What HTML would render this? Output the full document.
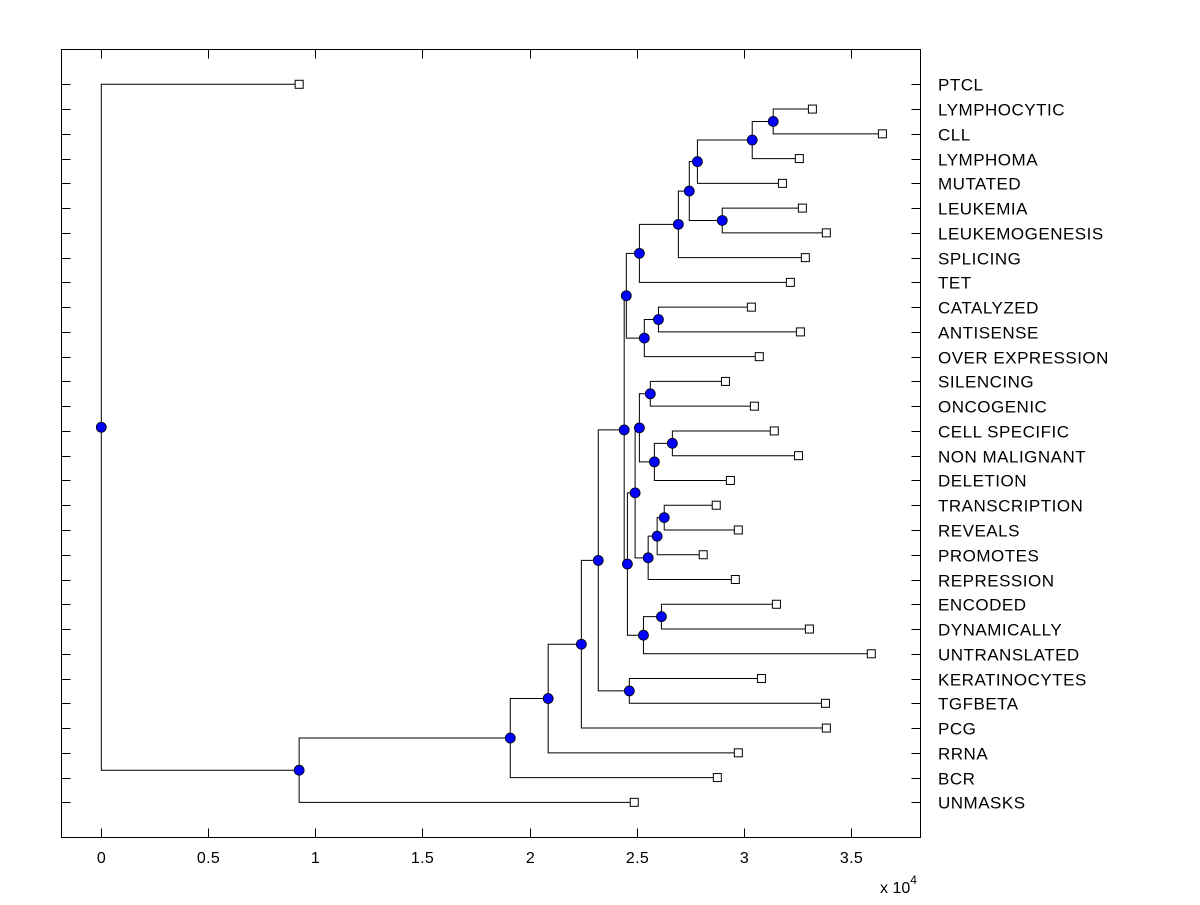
<!DOCTYPE html>
<html><head><meta charset="utf-8"><style>
html,body{margin:0;padding:0;background:#fff;}
svg text{font-family:"Liberation Sans",Arial,sans-serif;fill:#000;}
</style></head><body>
<svg id="chart" width="1200" height="900" xmlns="http://www.w3.org/2000/svg">
<rect x="0" y="0" width="1200" height="900" fill="#fff"/>
<g id="axes"></g><g id="links"></g><g id="marks"></g><g id="labels"></g>
</svg>
<script>
const leafNames = ["PTCL","LYMPHOCYTIC","CLL","LYMPHOMA","MUTATED","LEUKEMIA","LEUKEMOGENESIS","SPLICING","TET","CATALYZED","ANTISENSE","OVER EXPRESSION","SILENCING","ONCOGENIC","CELL SPECIFIC","NON MALIGNANT","DELETION","TRANSCRIPTION","REVEALS","PROMOTES","REPRESSION","ENCODED","DYNAMICALLY","UNTRANSLATED","KERATINOCYTES","TGFBETA","PCG","RRNA","BCR","UNMASKS"];
const leafValues = [9240,33210,36480,32600,31810,32740,33860,32880,32180,30360,32650,30730,29150,30500,31430,32560,29380,28720,29750,28110,29610,31530,33070,35960,30830,33820,33860,29750,28770,24890];
const nodeNames  = ["A","B","C","D","E","F","G","H","I","J","K","L","M","N","O","P","Q","R","S","T","U","V","W","X","Y","Z","AA","BB","ROOT"];
const nodeValues = [31380,30400,27840,29000,27460,26950,25130,26020,25360,24520,25640,26670,25830,25130,26290,25960,25540,24930,26160,25320,24570,24420,24660,23210,22420,20870,19100,9240,0];
const nodeChildren = [[1,2],["A",3],["B",4],[5,6],["C","D"],["E",7],["F",8],[9,10],["H",11],["G","I"],[12,13],[14,15],["L",16],["K","M"],[17,18],["O",19],["P",20],["N","Q"],[21,22],["S",23],["R","T"],["J","U"],[24,25],["V","W"],["X",26],["Y",27],["Z",28],["AA",29],[0,"BB"]];
const xTicks = [0,5000,10000,15000,20000,25000,30000,35000];
const xTickLabels = ["0","0.5","1","1.5","2","2.5","3","3.5"];

const L=61.5,R=920.5,T=49.5,B=837.5;
const X = v => 101.3 + v*0.021412;
const Y = i => 84.3 + i*24.76;
const NS="http://www.w3.org/2000/svg";
function mk(tag,parent,attrs){const e=document.createElementNS(NS,tag);for(const k in attrs)e.setAttribute(k,attrs[k]);document.getElementById(parent).appendChild(e);return e;}

let fr=mk('rect','axes',{x:L,y:T,width:R-L,height:B-T,fill:'none',stroke:'#000','stroke-width':1});


xTicks.forEach((t,i)=>{
  const x=Math.round(X(t))+0.5;
  let a=mk('line','axes',{x1:x,x2:x,y1:B,y2:B-9,stroke:'#000'});
  
  
  let b=mk('line','axes',{x1:x,x2:x,y1:T,y2:T+9,stroke:'#000'});
  
  
  let tx=mk('text','axes',{x:x,y:863,'font-size':16,'text-anchor':'middle','letter-spacing':0.3});
  tx.textContent=xTickLabels[i];
  
  
});
let ex=mk('text','axes',{x:880,y:893,'font-size':16});
ex.innerHTML='x 10<tspan dy="-9" font-size="12">4</tspan>';



leafNames.forEach((n,i)=>{
  const y=Math.round(Y(i))+0.5;
  let a=mk('line','axes',{x1:L,x2:L+9,y1:y,y2:y,stroke:'#000'});
  
  
  let b=mk('line','axes',{x1:R,x2:R-9,y1:y,y2:y,stroke:'#000'});
  
  
  let t=mk('text','labels',{x:938,y:y+6,'font-size':17,'letter-spacing':0.5});
  t.textContent=n;
  
  
});

const pos={};
leafNames.forEach((n,i)=>{pos[i]={x:X(leafValues[i]),y:Y(i)};});
nodeNames.forEach((n,k)=>{
  const [a,b]=nodeChildren[k];
  const pa=pos[a],pb=pos[b];
  const x=X(nodeValues[k]);
  pos[n]={x:x,y:(pa.y+pb.y)/2};
  const p=`M${pa.x},${pa.y}H${x}V${pb.y}H${pb.x}`;
  let e=mk('path','links',{d:p,fill:'none',stroke:'#000','stroke-width':1});
  
  
});
nodeNames.forEach(n=>{
  const p=pos[n];
  let c=mk('circle','marks',{cx:p.x,cy:p.y,r:5,fill:'#0000ff',stroke:'#000','stroke-width':0.8});
  
  
});
leafNames.forEach((n,i)=>{
  const p=pos[i];
  let s=mk('rect','marks',{x:p.x-4,y:p.y-4,width:8,height:8,fill:'#fff',stroke:'#000','stroke-width':1});
  
  
});
</script>
</body></html>
